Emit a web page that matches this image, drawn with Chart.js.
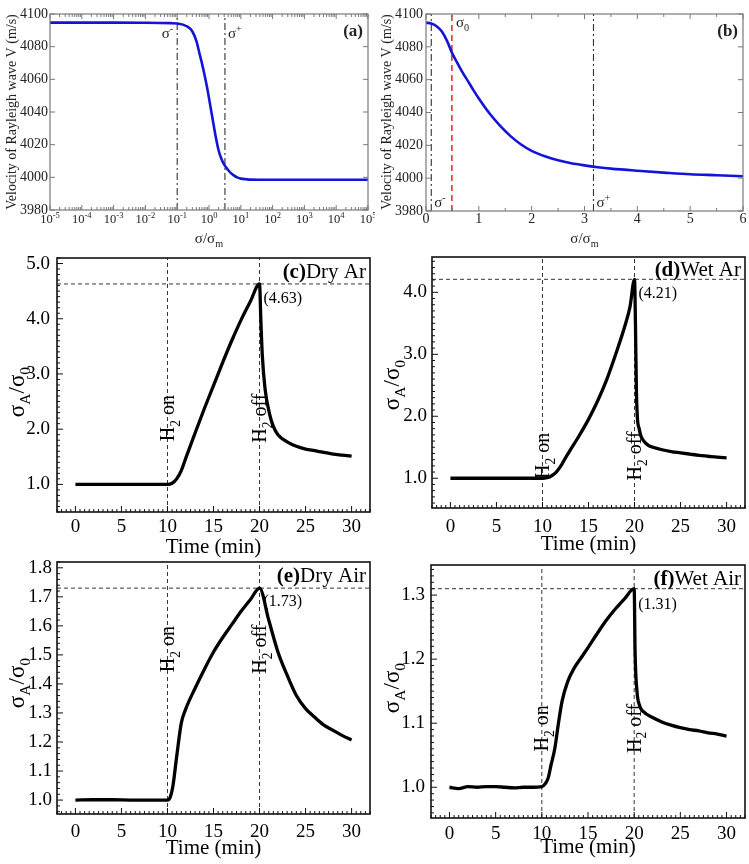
<!DOCTYPE html>
<html>
<head>
<meta charset="utf-8">
<title>Rayleigh wave velocity and H2 response</title>
<script src="https://cdn.jsdelivr.net/npm/chart.js@4.4.1/dist/chart.umd.min.js"></script>
<style>
  html, body { margin: 0; padding: 0; background: #fff; }
  #page { position: relative; width: 749px; height: 864px; overflow: hidden; background: #fff; }
  #page canvas { position: absolute; }
</style>
</head>
<body>
<div id="page">
  <canvas id="panelA"></canvas>
  <canvas id="panelB"></canvas>
  <canvas id="panelC"></canvas>
  <canvas id="panelD"></canvas>
  <canvas id="panelE"></canvas>
  <canvas id="panelF"></canvas>
</div>
<script>
const SERIF = "'Liberation Serif', 'Times New Roman', serif";

// --- (a) velocity vs sigma/sigma_m, log axis ---
const logRatio = [1e-5, 1e-4, 1e-3, 1e-2, 0.03, 0.06, 0.1, 0.2, 0.3, 0.4, 0.5, 0.6, 0.7, 0.85, 1, 1.2, 1.4, 1.6, 2, 2.5, 3, 4, 5, 6, 8, 10, 15, 20, 50, 100, 1e3, 1e4, 1e5];
const logVelocity = [4094.7, 4094.7, 4094.7, 4094.6, 4094.5, 4094.4, 4094.2, 4092.5, 4089.3, 4083.5, 4076, 4069.8, 4064, 4056, 4048.5, 4039.5, 4032, 4025.6, 4016.6, 4010.9, 4007.8, 4004.5, 4002.4, 4001.2, 3999.8, 3999.2, 3998.8, 3998.6, 3998.5, 3998.5, 3998.5, 3998.5, 3998.5];
const logExponents = [-5, -4, -3, -2, -1, 0, 1, 2, 3, 4, 5];

// --- (b) same curve, linear axis 0..6 ---
const linRatio = [0, 0.1, 0.2, 0.3, 0.4, 0.49, 0.6, 0.7, 0.8, 0.9, 1.0, 1.2, 1.4, 1.6, 1.8, 2.0, 2.25, 2.5, 2.75, 3.0, 3.25, 3.5, 4.0, 4.5, 5.0, 5.5, 6.0];
const linVelocity = [4094.7, 4094.2, 4092.5, 4089.3, 4083.5, 4076.5, 4069.8, 4064, 4058.8, 4053.5, 4048.5, 4039.5, 4032, 4025.6, 4020.5, 4016.6, 4013.3, 4010.9, 4009.1, 4007.8, 4006.7, 4005.8, 4004.5, 4003.4, 4002.4, 4001.8, 4001.2];

const sigmaMinus = 0.1;
const sigmaZero = 0.49;
const sigmaPlus = 3.17;

// --- (c)-(f) sigma_A/sigma_0 vs time ---
const timeDryAr = [0, 2, 4, 6, 8, 10, 10.5, 11, 11.5, 12, 13, 14, 15, 16, 17, 18, 19, 20, 20.15, 20.3, 20.6, 21.1, 21.5, 22, 23, 24, 25, 26, 27, 28, 29, 30];
const ratioDryAr = [1, 1, 1, 1, 1, 1, 1.02, 1.1, 1.25, 1.48, 1.93, 2.37, 2.79, 3.21, 3.61, 3.98, 4.31, 4.63, 3.94, 3.34, 2.73, 2.27, 2.05, 1.9, 1.77, 1.69, 1.64, 1.61, 1.58, 1.55, 1.53, 1.51];

const timeWetAr = [0, 2, 4, 6, 8, 10, 10.5, 11, 11.5, 12, 12.5, 13, 14, 15, 16, 17, 18, 19, 19.5, 20, 20.1, 20.2, 20.3, 20.5, 20.7, 21, 21.5, 22, 23, 24, 25, 26, 27, 28, 29, 30];
const ratioWetAr = [1, 1, 1, 1, 1, 1, 1.01, 1.04, 1.1, 1.2, 1.33, 1.45, 1.69, 1.95, 2.25, 2.6, 3.02, 3.48, 3.76, 4.21, 3.5, 2.45, 2.0, 1.8, 1.68, 1.6, 1.53, 1.5, 1.46, 1.43, 1.41, 1.39, 1.37, 1.355, 1.34, 1.33];

const timeDryAir = [0, 2, 4, 6, 8, 10, 10.3, 10.6, 11, 11.5, 12, 13, 14, 15, 16, 17, 18, 19, 20, 21, 22, 23, 24, 25, 26, 27, 28, 29, 30];
const ratioDryAir = [1, 1.001, 1.001, 1, 1, 1, 1.01, 1.05, 1.15, 1.265, 1.315, 1.385, 1.45, 1.51, 1.56, 1.605, 1.65, 1.69, 1.73, 1.62, 1.51, 1.43, 1.36, 1.315, 1.285, 1.258, 1.24, 1.222, 1.207];

const timeWetAir = [0, 1, 2, 3, 4, 5, 6, 7, 8, 9, 10, 10.4, 10.7, 11, 11.4, 11.8, 12.2, 12.8, 13.5, 14.2, 15, 16, 17, 18, 19, 20, 20.1, 20.3, 20.6, 21, 22, 23, 24, 25, 26, 27, 28, 29, 30];
const ratioWetAir = [1, 0.998, 1.001, 1.0, 1.001, 1.001, 1.0, 0.999, 1.0, 1.0, 1.001, 1.006, 1.015, 1.035, 1.06, 1.1, 1.135, 1.165, 1.186, 1.201, 1.218, 1.24, 1.261, 1.279, 1.295, 1.31, 1.21, 1.15, 1.127, 1.118, 1.109, 1.102, 1.097, 1.093, 1.09, 1.088, 1.085, 1.083, 1.08];

const h2On = 10;
const h2Off = 20;

Chart.defaults.font.family = SERIF;
Chart.defaults.animation = false;

const pts = (xs, ys) => xs.map((x, i) => ({ x: x, y: ys[i] }));

function fontStr(size, weight) { return (weight || 'normal') + ' ' + size + 'px ' + SERIF; }

// draws text pieces with sub/superscripts; y is the baseline
function drawRich(ctx, parts, x, y, size, align) {
    const small = size * 0.68;
    const widths = parts.map(p => { ctx.font = fontStr(p[1] ? small : size, p[2]); return ctx.measureText(p[0]).width; });
    const total = widths.reduce((s, w) => s + w, 0);
    let cx = align === 'right' ? x - total : (align === 'left' ? x : x - total / 2);
    ctx.textAlign = 'left';
    ctx.textBaseline = 'alphabetic';
    parts.forEach((p, i) => {
        ctx.font = fontStr(p[1] ? small : size, p[2]);
        const dy = p[1] === 'sub' ? size * 0.28 : (p[1] === 'sup' ? -size * 0.42 : 0);
        ctx.fillText(p[0], cx, y + dy);
        cx += widths[i];
    });
}

function markList(min, max, step) {
    const out = [];
    for (let n = Math.ceil(min / step - 1e-6); n * step <= max + 1e-6; n++) out.push(n * step);
    return out;
}
const isMultiple = (v, step) => Math.abs(v / step - Math.round(v / step)) < 1e-6;

/* frame, inward ticks and all the text that Chart.js can't typeset */
const decoPlugin = {
    id: 'deco',
    afterDatasetsDraw(chart, args, o) {
        const ctx = chart.ctx, a = chart.chartArea, xs = chart.scales.x, ys = chart.scales.y;
        const ox = o.origin[0], oy = o.origin[1], tk = o.ticks;
        ctx.save();
        ctx.strokeStyle = o.frameColor;
        ctx.lineWidth = 1;
        ctx.beginPath();
        let xMarks;
        if (tk.xLog) {
            xMarks = [];
            for (let e = -5; e < 5; e++) for (let k = 1; k < 10; k++) xMarks.push([k * Math.pow(10, e), k === 1]);
            xMarks.push([1e5, true]);
        } else {
            xMarks = markList(xs.min, xs.max, tk.xMinor).map(v => [v, isMultiple(v, tk.xMajor)]);
        }
        xMarks.forEach(([v, major]) => {
            const px = xs.getPixelForValue(v), len = major ? tk.major : tk.minor;
            tk.xSides.forEach(side => {
                const y0 = side === 'bottom' ? a.bottom : a.top;
                ctx.moveTo(px, y0);
                ctx.lineTo(px, y0 + (side === 'bottom' ? -len : len));
            });
        });
        markList(ys.min, ys.max, tk.yMinor).forEach(v => {
            const py = ys.getPixelForValue(v), len = isMultiple(v, tk.yMajor) ? tk.major : tk.minor;
            tk.ySides.forEach(side => {
                const x0 = side === 'left' ? a.left : a.right;
                ctx.moveTo(x0, py);
                ctx.lineTo(x0 + (side === 'left' ? len : -len), py);
            });
        });
        ctx.stroke();
        ctx.lineWidth = o.frameWidth;
        ctx.strokeRect(a.left, a.top, a.right - a.left, a.bottom - a.top);

        ctx.fillStyle = o.textColor;
        if (o.logLabels) {
            o.logLabels.exps.forEach(e => {
                const px = xs.getPixelForValue(Math.pow(10, e));
                drawRich(ctx, [['10', ''], [String(e), 'sup']], px, o.logLabels.gy - oy, o.logLabels.size, 'center');
            });
        }
        o.texts.forEach(t => {
            let px = (t.x !== undefined ? xs.getPixelForValue(t.x) : t.gx - ox) + (t.dx || 0);
            let py = (t.y !== undefined ? ys.getPixelForValue(t.y) : t.gy - oy) + (t.dy || 0);
            if (t.rotate) {
                ctx.save();
                ctx.translate(px, py);
                ctx.rotate(-Math.PI / 2);
                drawRich(ctx, t.parts, 0, t.size * 0.33, t.size, 'center');
                ctx.restore();
            } else {
                drawRich(ctx, t.parts, px, py, t.size, t.align || 'center');
            }
        });
        ctx.restore();
    }
};
Chart.register(decoPlugin);

// geo = [canvasLeft, canvasTop, canvasW, canvasH, areaLeft, areaTop, areaRight, areaBottom] in page pixels
function placeCanvas(id, geo) {
    const c = document.getElementById(id);
    c.width = geo[2];
    c.height = geo[3];
    c.style.left = geo[0] + 'px';
    c.style.top = geo[1] + 'px';
    return c;
}

function axis(type, min, max, step, size, pad, fit, isX, color, fmt, showTicks) {
    return {
        type: type, min: min, max: max,
        grid: { display: false, drawTicks: false },
        border: { display: false },
        ticks: {
            display: showTicks !== false, stepSize: step, includeBounds: false, autoSkip: false,
            maxRotation: 0, padding: pad, color: color, font: { size: size, family: SERIF },
            callback: fmt || (v => v)
        },
        afterFit: isX ? (s => { s.height = fit; }) : (s => { s.width = fit; })
    };
}

function guide(points, color, dash, width) {
    return { data: points, borderColor: color, borderDash: dash, borderWidth: width, pointRadius: 0, tension: 0, fill: false };
}

function baseOptions(geo, scales, deco) {
    return {
        responsive: false, animation: false, events: [],
        layout: { padding: { top: geo[5] - geo[1], right: geo[0] + geo[2] - geo[6], left: 0, bottom: 0 } },
        scales: scales,
        plugins: { legend: { display: false }, tooltip: { enabled: false }, deco: deco }
    };
}

const SIGMA_RATIO = [['σ/σ', ''], ['m', 'sub']];
const VEL_TITLE = [['Velocity of Rayleigh wave V (m/s)', '']];
const DASHDOT = [7, 3, 2, 3];

// ---------- (a) ----------
(function () {
    const geo = [0, 0, 375, 255, 50, 14, 368, 210];
    new Chart(placeCanvas('panelA', geo), {
        type: 'line',
        data: { datasets: [
            { data: pts(logRatio, logVelocity), borderColor: '#1414d8', borderWidth: 2.6, pointRadius: 0, cubicInterpolationMode: 'monotone' },
            guide([{ x: sigmaMinus, y: 3980 }, { x: sigmaMinus, y: 4100 }], '#333', DASHDOT, 1.1),
            guide([{ x: sigmaPlus, y: 3980 }, { x: sigmaPlus, y: 4100 }], '#333', DASHDOT, 1.1)
        ] },
        options: baseOptions(geo, {
            x: axis('logarithmic', 1e-5, 1e5, undefined, 12, 0, geo[1] + geo[3] - geo[7], true, '#222', null, false),
            y: axis('linear', 3980, 4100, 20, 14, 2, geo[4] - geo[0], false, '#222')
        }, {
            origin: [geo[0], geo[1]], frameColor: '#7a7a7a', frameWidth: 1.2, textColor: '#222',
            ticks: { xLog: true, xSides: ['bottom', 'top'], ySides: ['left', 'right'], yMinor: 20, yMajor: 20, major: 5, minor: 3 },
            logLabels: { exps: logExponents, gy: 223, size: 12.5 },
            texts: [
                { x: sigmaMinus, dx: -4, gy: 38, align: 'right', size: 15, parts: [['σ', ''], ['-', 'sup']] },
                { x: sigmaPlus, dx: 3, gy: 38, align: 'left', size: 15, parts: [['σ', ''], ['+', 'sup']] },
                { gx: 363, gy: 36, align: 'right', size: 17, parts: [['(a)', '', 'bold']] },
                { gx: 11, gy: 112, rotate: true, size: 14, parts: VEL_TITLE },
                { gx: 209, gy: 243, size: 15, parts: SIGMA_RATIO }
            ]
        })
    });
})();

// ---------- (b) ----------
(function () {
    const geo = [375, 0, 374, 255, 426, 14, 743, 211];
    new Chart(placeCanvas('panelB', geo), {
        type: 'line',
        data: { datasets: [
            { data: pts(linRatio, linVelocity), borderColor: '#1414d8', borderWidth: 2.6, pointRadius: 0, cubicInterpolationMode: 'monotone' },
            guide([{ x: sigmaZero, y: 3980 }, { x: sigmaZero, y: 4100 }], '#e01818', [6, 4], 1.4),
            guide([{ x: sigmaMinus, y: 3980 }, { x: sigmaMinus, y: 4100 }], '#333', DASHDOT, 1.1),
            guide([{ x: sigmaPlus, y: 3980 }, { x: sigmaPlus, y: 4100 }], '#333', DASHDOT, 1.1)
        ] },
        options: baseOptions(geo, {
            x: axis('linear', 0, 6, 1, 14, 0, geo[1] + geo[3] - geo[7], true, '#222'),
            y: axis('linear', 3980, 4100, 20, 14, 3, geo[4] - geo[0], false, '#222')
        }, {
            origin: [geo[0], geo[1]], frameColor: '#7a7a7a', frameWidth: 1.2, textColor: '#222',
            ticks: { xLog: false, xMinor: 0.5, xMajor: 1, xSides: ['bottom', 'top'], ySides: ['left', 'right'], yMinor: 20, yMajor: 20, major: 5, minor: 3 },
            texts: [
                { x: sigmaMinus, dx: 3, gy: 207, align: 'left', size: 15, parts: [['σ', ''], ['-', 'sup']] },
                { x: sigmaZero, dx: 4, gy: 27, align: 'left', size: 15, parts: [['σ', ''], ['0', 'sub']] },
                { x: sigmaPlus, dx: 3, gy: 207, align: 'left', size: 15, parts: [['σ', ''], ['+', 'sup']] },
                { gx: 738, gy: 36, align: 'right', size: 17, parts: [['(b)', '', 'bold']] },
                { gx: 386, gy: 112, rotate: true, size: 14, parts: VEL_TITLE },
                { x: 3, gy: 243, size: 15, parts: SIGMA_RATIO }
            ]
        })
    });
})();

// ---------- (c)-(f) ----------
const H2_ON = [['H', ''], ['2', 'sub'], [' on', '']];
const H2_OFF = [['H', ''], ['2', 'sub'], [' off', '']];
const RATIO_TITLE = [['σ', ''], ['A', 'sub'], ['/σ', ''], ['0', 'sub']];

function responsePanel(p) {
    const geo = p.geo, xMin = -2, xMax = 32;
    new Chart(placeCanvas(p.id, geo), {
        type: 'line',
        data: { datasets: [
            { data: pts(p.times, p.ratios), borderColor: '#000', borderWidth: 3.3, pointRadius: 0, cubicInterpolationMode: 'monotone' },
            guide([{ x: h2On, y: p.yMin }, { x: h2On, y: p.yMax }], '#333', [4, 3], 1),
            guide([{ x: h2Off, y: p.yMin }, { x: h2Off, y: p.yMax }], '#333', [4, 3], 1),
            guide([{ x: xMin, y: p.peak }, { x: xMax, y: p.peak }], '#333', [4, 3], 1)
        ] },
        options: baseOptions(geo, {
            x: axis('linear', xMin, xMax, 5, 19, p.xPad, geo[1] + geo[3] - geo[7], true, '#000'),
            y: axis('linear', p.yMin, p.yMax, p.yStep, 19, p.yPad, geo[4] - geo[0], false, '#000', v => v.toFixed(1))
        }, {
            origin: [geo[0], geo[1]], frameColor: '#111', frameWidth: 1.6, textColor: '#000',
            ticks: { xLog: false, xMinor: 0.5, xMajor: 5, xSides: ['bottom'], ySides: ['left'], yMinor: p.yMinor, yMajor: p.yStep, major: 6, minor: 3 },
            texts: [
                { gx: geo[6] - 4, gy: p.tagY, align: 'right', size: 21, parts: [[p.tag, '', 'bold'], [p.gas, '']] },
                { x: h2Off, dx: 4, y: p.peak, dy: p.peakDy, align: 'left', size: 16, parts: [['(' + p.peak.toFixed(2) + ')', '']] },
                { x: h2On, y: p.h2Y, rotate: true, size: 20, parts: H2_ON },
                { x: h2Off, y: p.h2Y, rotate: true, size: 20, parts: H2_OFF },
                { gx: geo[0] + 16, gy: p.titleY, rotate: true, size: 23, parts: RATIO_TITLE },
                { x: 15, gy: p.timeY, size: 21, parts: [['Time (min)', '']] }
            ]
        })
    });
}

responsePanel({ id: 'panelC', geo: [0, 235, 375, 330, 57, 258, 370, 512], times: timeDryAr, ratios: ratioDryAr, peak: 4.63,
    yMin: 0.5, yMax: 5.1, yStep: 1, yMinor: 0.1, xPad: 4, yPad: 7, tag: '(c)', gas: 'Dry Ar', tagY: 278, peakDy: 19, h2Y: 2.2, titleY: 392, timeY: 553 });
responsePanel({ id: 'panelD', geo: [375, 235, 374, 330, 432, 257, 745, 508], times: timeWetAr, ratios: ratioWetAr, peak: 4.21,
    yMin: 0.52, yMax: 4.57, yStep: 1, yMinor: 0.1, xPad: 8, yPad: 5, tag: '(d)', gas: 'Wet Ar', tagY: 276, peakDy: 19, h2Y: 1.36, titleY: 385, timeY: 550 });
responsePanel({ id: 'panelE', geo: [0, 545, 375, 319, 57, 562, 370, 814], times: timeDryAir, ratios: ratioDryAir, peak: 1.73,
    yMin: 0.952, yMax: 1.82, yStep: 0.1, yMinor: 0.02, xPad: 7, yPad: 5, tag: '(e)', gas: 'Dry Air', tagY: 582, peakDy: 18, h2Y: 1.52, titleY: 683, timeY: 854 });
responsePanel({ id: 'panelF', geo: [375, 545, 374, 319, 431, 565, 745, 818], times: timeWetAir, ratios: ratioWetAir, peak: 1.31,
    yMin: 0.952, yMax: 1.347, yStep: 0.1, yMinor: 0.01, xPad: 5, yPad: 6, tag: '(f)', gas: 'Wet Air', tagY: 585, peakDy: 20, h2Y: 1.092, titleY: 688, timeY: 853 });
</script>
</body>
</html>
